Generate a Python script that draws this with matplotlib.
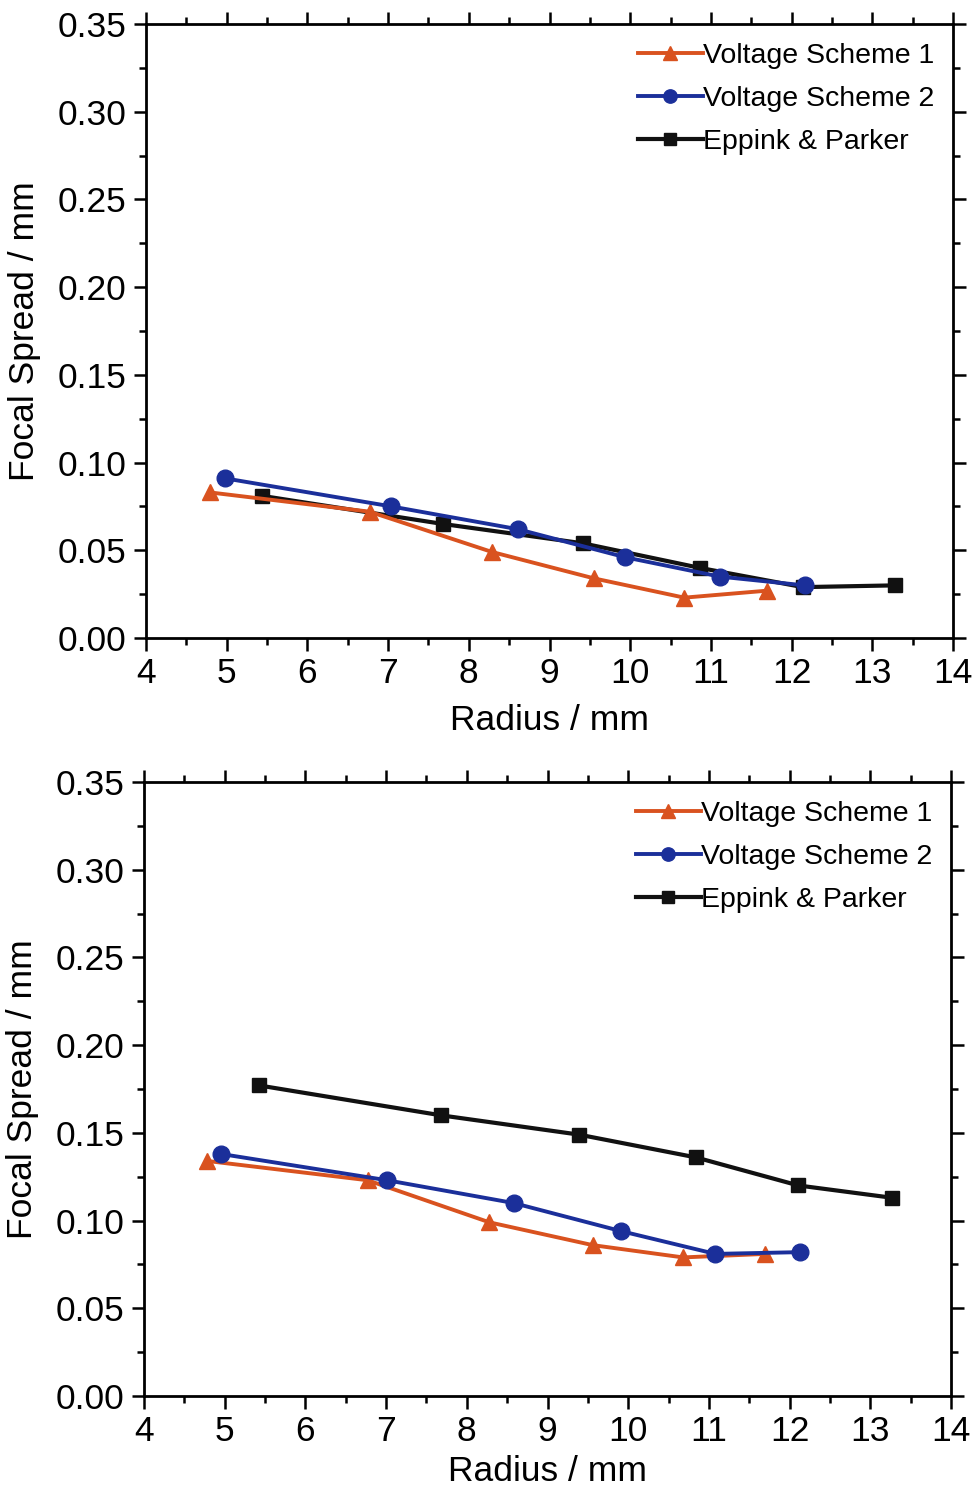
import matplotlib
matplotlib.use("Agg")
import matplotlib.pyplot as plt
from matplotlib.ticker import MultipleLocator

plt.rcParams['font.family'] = ['Liberation Sans', 'DejaVu Sans']

# Top panel data
top_s1_x = [4.79, 6.77, 8.29, 9.55, 10.67, 11.70]
top_s1_y = [0.083, 0.072, 0.049, 0.034, 0.023, 0.027]
top_s2_x = [4.98, 7.04, 8.61, 9.94, 11.11, 12.16]
top_s2_y = [0.091, 0.075, 0.062, 0.046, 0.035, 0.030]
top_ep_x = [5.44, 7.68, 9.41, 10.86, 12.14, 13.28]
top_ep_y = [0.081, 0.065, 0.054, 0.040, 0.029, 0.030]

# Bottom panel data
bot_s1_x = [4.78, 6.77, 8.28, 9.56, 10.68, 11.70]
bot_s1_y = [0.134, 0.123, 0.099, 0.086, 0.079, 0.081]
bot_s2_x = [4.95, 7.01, 8.58, 9.91, 11.08, 12.13]
bot_s2_y = [0.138, 0.123, 0.110, 0.094, 0.081, 0.082]
bot_ep_x = [5.43, 7.68, 9.39, 10.84, 12.11, 13.27]
bot_ep_y = [0.177, 0.160, 0.149, 0.136, 0.120, 0.113]

labels = ["Voltage Scheme 1", "Voltage Scheme 2", "Eppink & Parker"]
xticks = [4, 5, 6, 7, 8, 9, 10, 11, 12, 13, 14]
yticks = [0.00, 0.05, 0.10, 0.15, 0.20, 0.25, 0.30, 0.35]

C_OR = '#D9521F'
C_BL = '#1B2F9A'
C_BK = '#111111'

W, H = 978, 1494
fig = plt.figure(figsize=(W/100, H/100), dpi=100)

def make_ax(left, right, top, bottom):
    return fig.add_axes([left/W, 1-bottom/H, (right-left)/W, (bottom-top)/H])

ax1 = make_ax(146, 953, 24, 638)
ax2 = make_ax(144, 951, 782, 1396)

panels = [
    (ax1, (top_s1_x, top_s1_y), (top_s2_x, top_s2_y), (top_ep_x, top_ep_y), 10),
    (ax2, (bot_s1_x, bot_s1_y), (bot_s2_x, bot_s2_y), (bot_ep_x, bot_ep_y), 5),
]

for ax, s1, s2, ep, xpad in panels:
    ax.plot(*ep, color=C_BK, lw=3.0, marker='s', ms=10, label=labels[2], zorder=3)
    ax.plot(*s1, color=C_OR, lw=2.8, marker='^', ms=12, label=labels[0], zorder=4)
    ax.plot(*s2, color=C_BL, lw=2.8, marker='o', ms=12, label=labels[1], zorder=5)
    ax.set_xlim(4, 14)
    ax.set_ylim(0, 0.35)
    ax.set_xticks(xticks)
    ax.set_yticks(yticks)
    ax.set_yticklabels([f"{v:.2f}" for v in yticks])
    ax.xaxis.set_minor_locator(MultipleLocator(0.5))
    ax.yaxis.set_minor_locator(MultipleLocator(0.025))
    ax.tick_params(which='both', direction='out', top=True, right=True, width=1.8,
                   labelsize=25.5, pad=5)
    ax.tick_params(which='major', length=9)
    ax.tick_params(which='minor', length=5)
    for sp in ax.spines.values():
        sp.set_linewidth(2.0)
    ax.set_xlabel("Radius / mm", fontsize=25.5, labelpad=xpad)
    ax.set_ylabel("Focal Spread / mm", fontsize=25.5, labelpad=12)
    h, l = ax.get_legend_handles_labels()
    order = [1, 2, 0]
    ax.legend([h[i] for i in order], [l[i] for i in order], loc='upper right',
              frameon=False, fontsize=20.5, handlelength=2.3, handletextpad=0.0,
              labelspacing=0.6, borderaxespad=0.25, markerscale=0.8)

fig.savefig("out.png", dpi=100, facecolor='white')
